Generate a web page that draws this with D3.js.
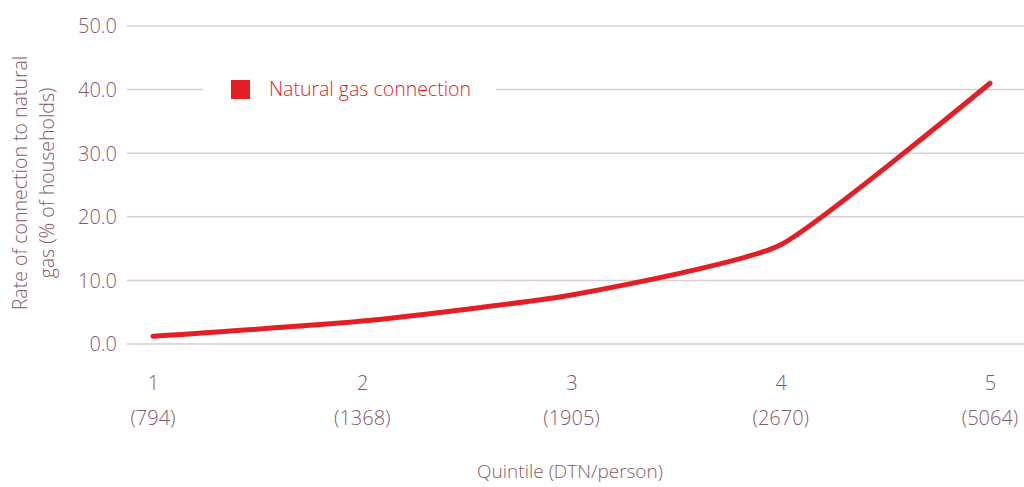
<!DOCTYPE html>
<html>
<head>
<meta charset="utf-8">
<script src="https://cdn.jsdelivr.net/npm/d3@7"></script>
<style>
  body { margin: 0; background: #fff; }
  svg { display: block; font-family: "Open Sans", sans-serif; font-weight: 300; }
</style>
</head>
<body>
<svg id="chart" width="1024" height="487"></svg>
<script>
const quintiles = ["1", "2", "3", "4", "5"];
const incomes = ["(794)", "(1368)", "(1905)", "(2670)", "(5064)"];
const gasRates = [1.2, 3.6, 7.7, 15.6, 41.0];
const yTicks = [0, 10, 20, 30, 40, 50];

const svg = d3.select("#chart");
const textColor = "#86596d";
const red = "#e31e24";

const x = d3.scalePoint()
    .domain(quintiles)
    .range([153, 990]);

const y = d3.scaleLinear()
    .domain([0, 50])
    .range([344, 26]);

// gridlines
svg.append("g")
    .selectAll("line")
    .data(yTicks)
    .enter().append("line")
    .attr("x1", 127)
    .attr("x2", 1024)
    .attr("y1", d => y(d))
    .attr("y2", d => y(d))
    .attr("stroke", "#dccbd2")
    .attr("stroke-width", 1.5);

// y axis labels
const yAxis = svg.append("g")
    .attr("transform", "translate(127,0)")
    .call(d3.axisLeft(y).tickValues(yTicks).tickFormat(d3.format(".1f")).tickSize(0).tickPadding(10))
    .attr("font-family", null)
    .attr("font-size", 20);
yAxis.select(".domain").remove();
yAxis.selectAll("text").attr("fill", textColor).attr("dy", "0.34em");

// x axis: quintile + income rows
const xAxis = svg.append("g")
    .attr("transform", "translate(0,383)")
    .call(d3.axisBottom(x).tickSize(0).tickPadding(0))
    .attr("font-family", null)
    .attr("font-size", 20);
xAxis.select(".domain").remove();
xAxis.selectAll("text").attr("fill", textColor).attr("dy", "0.35em");

svg.append("g")
    .selectAll("text")
    .data(quintiles)
    .enter().append("text")
    .attr("x", d => x(d))
    .attr("y", 418)
    .attr("dy", "0.35em")
    .attr("text-anchor", "middle")
    .attr("fill", textColor)
    .style("font-size", "20px")
    .text((d, i) => incomes[i]);

// axis titles
svg.append("text")
    .attr("x", 570)
    .attr("y", 471)
    .attr("dy", "0.35em")
    .attr("text-anchor", "middle")
    .attr("fill", textColor)
    .style("font-size", "19px")
    .text("Quintile (DTN/person)");

const yTitle = svg.append("text")
    .attr("transform", "translate(20,183) rotate(-90)")
    .attr("text-anchor", "middle")
    .attr("fill", textColor)
    .style("font-size", "19.5px");
yTitle.append("tspan").attr("x", 0).attr("dy", "0.35em").text("Rate of connection to natural");
yTitle.append("tspan").attr("x", 0).attr("dy", "1.4em").text("gas (% of households)");

// line
const line = d3.line()
    .x((d, i) => x(quintiles[i]))
    .y(d => y(d))
    .curve(d3.curveCardinal.tension(0.5));

svg.append("path")
    .datum(gasRates)
    .attr("d", line)
    .attr("fill", "none")
    .attr("stroke", red)
    .attr("stroke-width", 5)
    .attr("stroke-linecap", "round")
    .attr("stroke-linejoin", "round");

// legend
const legend = svg.append("g");
legend.append("rect")
    .attr("x", 203)
    .attr("y", 76)
    .attr("width", 293)
    .attr("height", 28)
    .attr("fill", "#fff");
legend.append("rect")
    .attr("x", 231)
    .attr("y", 80)
    .attr("width", 19)
    .attr("height", 19)
    .attr("fill", red);
legend.append("text")
    .attr("x", 269)
    .attr("y", 89.5)
    .attr("dy", "0.35em")
    .attr("fill", red)
    .style("font-size", "19.5px")
    .text("Natural gas connection");
</script>
</body>
</html>
